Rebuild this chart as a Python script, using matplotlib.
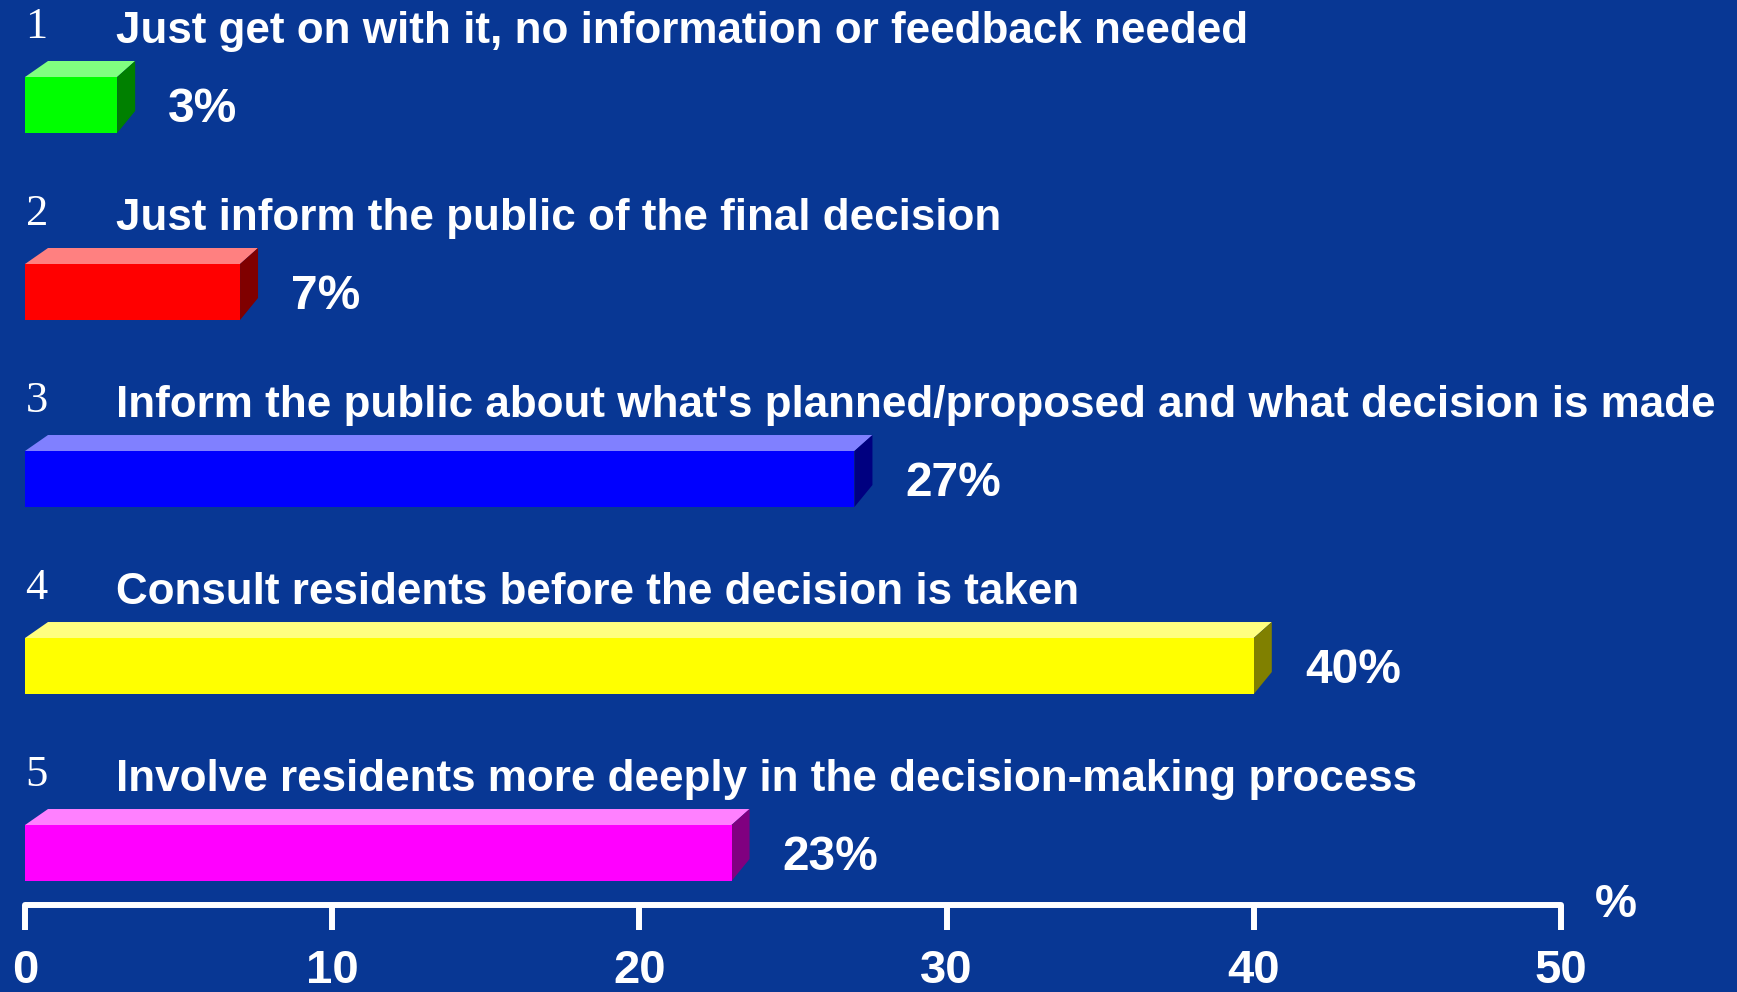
import matplotlib.pyplot as plt
from matplotlib.patches import Polygon

# data
numbers = ['1', '2', '3', '4', '5']
labels = [
    'Just get on with it, no information or feedback needed',
    'Just inform the public of the final decision',
    "Inform the public about what's planned/proposed and what decision is made",
    'Consult residents before the decision is taken',
    'Involve residents more deeply in the decision-making process',
]
values = [3, 7, 27, 40, 23]
front_colors = ['#00ff00', '#ff0000', '#0000ff', '#ffff00', '#ff00ff']
top_colors = ['#80ff80', '#ff8080', '#8080ff', '#ffff80', '#ff80ff']
side_colors = ['#008000', '#800000', '#000080', '#808000', '#800080']
xticks = [0, 10, 20, 30, 40, 50]

bg = '#083794'
W, H = 1737, 992

fig = plt.figure(figsize=(W / 100, H / 100), dpi=100, facecolor=bg)
ax = fig.add_axes([25 / W, (H - 905) / H, 1536 / W, 905 / H])
ax.set_facecolor(bg)
ax.set_xlim(0, 50)
ax.set_ylim(4.278, -0.5615)  # inverted, rows go down

# pixel -> data unit factors
px_x = 50 / 1536
px_y = (4.278 + 0.5615) / 905
bar_h = 56 * px_y

for i, (v, fc, tc, sc) in enumerate(zip(values, front_colors, top_colors, side_colors)):
    y_top = i - bar_h / 2
    y_bot = i + bar_h / 2
    # back face corners (a bit of perspective)
    bl = 23 * px_x
    br = v + 18 * px_x
    bt = y_top - 16 * px_y
    bb = y_bot - 22 * px_y
    ax.add_patch(Polygon([(0, y_top), (v, y_top), (br, bt), (bl, bt)],
                         closed=True, facecolor=tc, edgecolor='none', zorder=2))
    ax.add_patch(Polygon([(v, y_top), (br, bt), (br, bb), (v, y_bot)],
                         closed=True, facecolor=sc, edgecolor='none', zorder=2))
    ax.barh(i, v, height=bar_h, left=0, color=fc, zorder=3)

    # value label
    ax.text(v + 51 * px_x, i + 0.025, f'{v}%', color='white', fontsize=34.5,
            fontweight='bold', family='Liberation Sans', va='center',
            ha='left', clip_on=False)
    # row number and question text
    ax.text(0.02, i - 0.36, numbers[i], color='white', fontsize=32,
            family='Liberation Serif', va='baseline', ha='left')
    ax.text(2.95, i - 0.33, labels[i], color='white', fontsize=31.7,
            fontweight='bold', family='Liberation Sans', va='baseline', ha='left')

# axis styling: only the bottom line with ticks
for s in ['left', 'right', 'top']:
    ax.spines[s].set_visible(False)
ax.spines['bottom'].set_color('white')
ax.spines['bottom'].set_linewidth(4.3)
ax.spines['bottom'].set_capstyle('round')
ax.set_yticks([])
ax.set_xticks(xticks)
ax.set_xticklabels([str(t) for t in xticks])
ax.tick_params(axis='x', colors='white', direction='out', length=18, width=4.3,
               pad=14, labelsize=34)
for lab in ax.get_xticklabels():
    lab.set_fontweight('bold')
    lab.set_family('Liberation Sans')

ax.text(51.8, 4.278, '%', color='white', fontsize=34, fontweight='bold',
        family='Liberation Sans', va='center', ha='center', clip_on=False)

fig.savefig('out.png', dpi=100, facecolor=bg)
